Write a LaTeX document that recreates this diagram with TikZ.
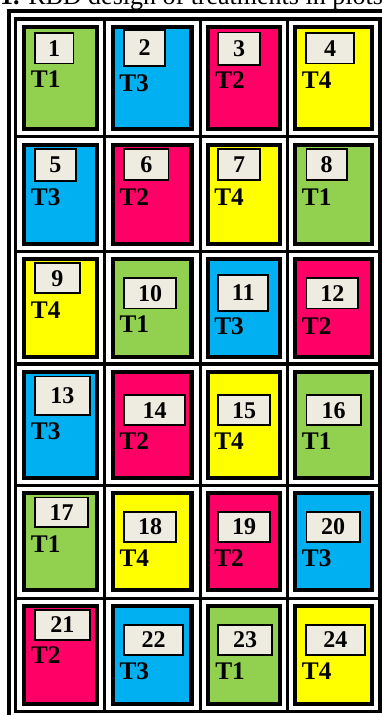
\documentclass[tikz,border=0pt]{standalone}
\usepackage{fontspec}
\setmainfont{Liberation Serif}
\usepackage{xcolor}
\usepackage{tikz}
\definecolor{plotgreen}{HTML}{92D050}
\definecolor{plotblue}{HTML}{00B0F0}
\definecolor{plotpink}{HTML}{FF0066}
\definecolor{plotyellow}{HTML}{FFFF00}
\definecolor{tagfill}{HTML}{EEECE1}
\tikzset{
    frame_line/.style={line width=3.4pt, draw=black},
    grid_line/.style={line width=2.6pt, draw=black},
    plot/.style={line width=3.2pt, draw=black},
    plot_t1/.style={plot, fill=plotgreen},
    plot_t2/.style={plot, fill=plotpink},
    plot_t3/.style={plot, fill=plotblue},
    plot_t4/.style={plot, fill=plotyellow},
    plot_no/.style={
        rectangle, draw=black, line width=1.2pt, fill=tagfill, inner sep=0pt,
        font=\fontsize{18}{18}\selectfont\bfseries
    },
    treat/.style={anchor=base west, inner sep=0pt, font=\fontsize{19}{19}\selectfont\bfseries},
    caption_text/.style={anchor=base west, inner sep=0pt, font=\fontsize{19.5}{19.5}\selectfont}
}

\begin{document}
\begin{tikzpicture}[x=0.75pt, y=-0.75pt]
    \useasboundingbox (0,0) rectangle (382,715);
    \clip (0,0) rectangle (382,715);

    \node[caption_text] (cap) at (28,4.5) {\llap{\textbf{Figure 1.} }RBD design of treatments in plots};

    % Marco y rejilla de la tabla
    \draw[frame_line] (9.2,11) rectangle (386.7,719);
    \draw[grid_line] (15.7,19) rectangle (380.2,711.5);
    \draw[grid_line] (104.7,19) -- (104.7,711.5);
    \draw[grid_line] (200.3,19) -- (200.3,711.5);
    \draw[grid_line] (287.7,19) -- (287.7,711.5);
    \draw[grid_line] (15.7,136.3) -- (380.2,136.3);
    \draw[grid_line] (15.7,251.3) -- (380.2,251.3);
    \draw[grid_line] (15.7,363.8) -- (380.2,363.8);
    \draw[grid_line] (15.7,485.5) -- (380.2,485.5);
    \draw[grid_line] (15.7,598.7) -- (380.2,598.7);

    % Bloque 1
    \draw[plot_t1] (24.2,27.2) rectangle (97.2,129.3);
    \draw[plot_t3] (113,27.2) rectangle (191.6,129.3);
    \draw[plot_t2] (208,27.2) rectangle (280,129.3);
    \draw[plot_t4] (295,27.2) rectangle (372,129.3);
    \node[plot_no, minimum width=29.0pt, minimum height=22.8pt] (n1) at (54.2,48.3) {1};
    \node[plot_no, minimum width=30.6pt, minimum height=26.9pt] (n2) at (144.5,48) {2};
    \node[plot_no, minimum width=31.4pt, minimum height=24.3pt] (n3) at (239,48.7) {3};
    \node[plot_no, minimum width=36.3pt, minimum height=22.8pt] (n4) at (330,48.3) {4};
    \node[treat] (t1) at (30.7,87.3) {T1};
    \node[treat] (t2) at (119,91) {T3};
    \node[treat] (t3) at (215,88) {T2};
    \node[treat] (t4) at (301.7,88) {T4};

    % Bloque 2
    \draw[plot_t3] (24.2,144.7) rectangle (97.2,243.8);
    \draw[plot_t2] (113,144.7) rectangle (191.6,243.8);
    \draw[plot_t4] (208,144.7) rectangle (280,243.8);
    \draw[plot_t1] (295,144.7) rectangle (372,243.8);
    \node[plot_no, minimum width=30.8pt, minimum height=23.9pt] (n5) at (55.3,165) {5};
    \node[plot_no, minimum width=33.3pt, minimum height=23.1pt] (n6) at (146.3,164.5) {6};
    \node[plot_no, minimum width=31.4pt, minimum height=23.1pt] (n7) at (239,164.5) {7};
    \node[plot_no, minimum width=30.3pt, minimum height=23.1pt] (n8) at (326.7,164.5) {8};
    \node[treat] (t5) at (30.7,205) {T3};
    \node[treat] (t6) at (119.3,205) {T2};
    \node[treat] (t7) at (214,205) {T4};
    \node[treat] (t8) at (301.7,205) {T1};

    % Bloque 3
    \draw[plot_t4] (24.2,258.9) rectangle (97.2,357.1);
    \draw[plot_t1] (113,258.9) rectangle (191.6,357.1);
    \draw[plot_t3] (208,258.9) rectangle (280,357.1);
    \draw[plot_t2] (295,258.9) rectangle (372,357.1);
    \node[plot_no, minimum width=33.8pt, minimum height=22.6pt] (n9) at (57.3,278.2) {9};
    \node[plot_no, minimum width=38.9pt, minimum height=22.8pt] (n10) at (150,293.3) {10};
    \node[plot_no, minimum width=37.6pt, minimum height=27.1pt] (n11) at (243.2,292.8) {11};
    \node[plot_no, minimum width=38.8pt, minimum height=22.8pt] (n12) at (332.3,293.3) {12};
    \node[treat] (t9) at (30.7,318.3) {T4};
    \node[treat] (t10) at (119.3,332.7) {T1};
    \node[treat] (t11) at (214,334) {T3};
    \node[treat] (t12) at (301.7,334) {T2};

    % Bloque 4
    \draw[plot_t3] (24.2,372.2) rectangle (97.2,478.3);
    \draw[plot_t2] (113,372.2) rectangle (191.6,478.3);
    \draw[plot_t4] (208,372.2) rectangle (280,478.3);
    \draw[plot_t1] (295,372.2) rectangle (372,478.3);
    \node[plot_no, minimum width=41.3pt, minimum height=29.0pt] (n13) at (62.3,395.8) {13};
    \node[plot_no, minimum width=45.6pt, minimum height=22.6pt] (n14) at (154.5,410.2) {14};
    \node[plot_no, minimum width=38.9pt, minimum height=22.6pt] (n15) at (244,410.2) {15};
    \node[plot_no, minimum width=40.8pt, minimum height=22.6pt] (n16) at (333.7,410.2) {16};
    \node[treat] (t13) at (30.7,439.3) {T3};
    \node[treat] (t14) at (119.3,449.3) {T2};
    \node[treat] (t15) at (214,449) {T4};
    \node[treat] (t16) at (301.7,449) {T1};

    % Bloque 5
    \draw[plot_t1] (24.2,493.2) rectangle (97.2,590.1);
    \draw[plot_t4] (113,493.2) rectangle (191.6,590.1);
    \draw[plot_t2] (208,493.2) rectangle (280,590.1);
    \draw[plot_t3] (295,493.2) rectangle (372,590.1);
    \node[plot_no, minimum width=40.1pt, minimum height=22.1pt] (n17) at (61.5,512.2) {17};
    \node[plot_no, minimum width=38.9pt, minimum height=22.6pt] (n18) at (150,526.8) {18};
    \node[plot_no, minimum width=38.9pt, minimum height=22.6pt] (n19) at (244,526.8) {19};
    \node[plot_no, minimum width=40.1pt, minimum height=22.6pt] (n20) at (333.2,526.8) {20};
    \node[treat] (t17) at (30.7,552.7) {T1};
    \node[treat] (t18) at (119.3,566.7) {T4};
    \node[treat] (t19) at (214,566.7) {T2};
    \node[treat] (t20) at (301.7,566.7) {T3};

    % Bloque 6
    \draw[plot_t2] (24.2,606.2) rectangle (97.2,703.8);
    \draw[plot_t3] (113,606.2) rectangle (191.6,703.8);
    \draw[plot_t1] (208,606.2) rectangle (280,703.8);
    \draw[plot_t4] (295,606.2) rectangle (372,703.8);
    \node[plot_no, minimum width=41.3pt, minimum height=22.8pt] (n21) at (62.3,625) {21};
    \node[plot_no, minimum width=44.3pt, minimum height=22.8pt] (n22) at (153.7,640) {22};
    \node[plot_no, minimum width=40.4pt, minimum height=22.8pt] (n23) at (245,640) {23};
    \node[plot_no, minimum width=44.3pt, minimum height=22.8pt] (n24) at (335.3,640) {24};
    \node[treat] (t21) at (30.7,663.3) {T2};
    \node[treat] (t22) at (119.3,679) {T3};
    \node[treat] (t23) at (215,679) {T1};
    \node[treat] (t24) at (301.7,679) {T4};
\end{tikzpicture}
\end{document}
